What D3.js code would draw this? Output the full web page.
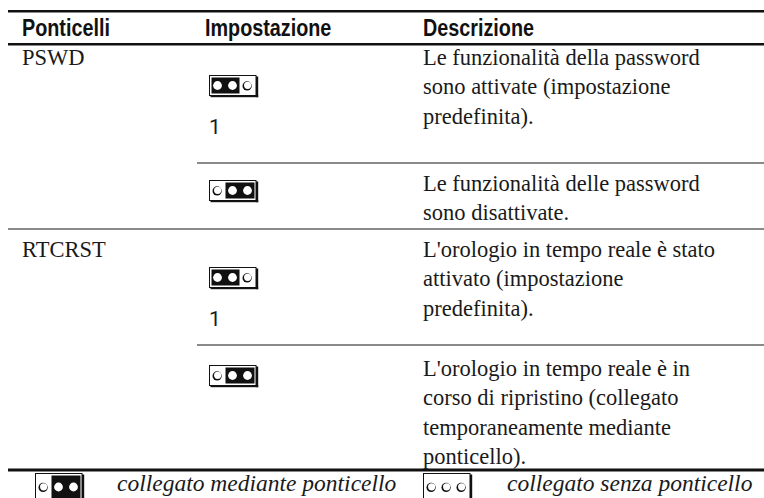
<!DOCTYPE html>
<html><head><meta charset="utf-8">
<script src="https://cdn.jsdelivr.net/npm/d3@7"></script>
<style>
html,body{margin:0;padding:0;background:#fff;}
svg{display:block;}
.hdr{font-family:"Liberation Sans",Arial,sans-serif;font-weight:bold;font-size:23px;fill:#111;}
.body{font-family:"Liberation Serif","Times New Roman",serif;font-size:22.5px;fill:#1a1a1a;}
.lab{font-family:Roboto,"Liberation Sans",sans-serif;font-size:21px;fill:#1a1a1a;}
.leg{font-family:"Liberation Serif","Times New Roman",serif;font-style:italic;font-size:23.5px;fill:#1a1a1a;}
</style></head>
<body><svg id="c" width="764" height="498"></svg>
<script>
// ---- data ----
const columns = ["Ponticelli", "Impostazione", "Descrizione"];
const rowJumper = ["PSWD", "", "RTCRST", ""];
const rowPins = [[1,1,0],[0,1,1],[1,1,0],[0,1,1]];
const rowPinLabel = ["1", "", "1", ""];
const rowDesc = [
  ["Le funzionalità della password", "sono attivate (impostazione", "predefinita)."],
  ["Le funzionalità delle password", "sono disattivate."],
  ["L'orologio in tempo reale è stato", "attivato (impostazione", "predefinita)."],
  ["L'orologio in tempo reale è in", "corso di ripristino (collegato", "temporaneamente mediante", "ponticello)."]
];
const legendPins = [[0,1,1],[0,0,0]];
const legendLabels = ["collegato mediante ponticello", "collegato senza ponticello"];

// ---- layout ----
const svg = d3.select("#c");
const colX = d3.scaleOrdinal().domain(columns).range([22, 205, 423]);
const rowBase = [65, 191, 257, 376];
const lineH = 29.3;
const iconTopOff = [10, -11, 10, -11];
const ruleLeft = 8, ruleRight = 764;

// rules
svg.append("rect").attr("x", ruleLeft).attr("y", 10).attr("width", ruleRight-ruleLeft).attr("height", 2.5).attr("fill", "#111");
svg.append("rect").attr("x", ruleLeft).attr("y", 43).attr("width", ruleRight-ruleLeft).attr("height", 2.5).attr("fill", "#111");
svg.append("rect").attr("x", ruleLeft).attr("y", 468.5).attr("width", ruleRight-ruleLeft).attr("height", 3).attr("fill", "#111");
// separators
[[197,162],[ruleLeft,228],[197,344]].forEach(([x0,y]) => {
  svg.append("rect").attr("x", x0).attr("y", y).attr("width", ruleRight-x0).attr("height", 2).attr("fill", "#8a8a8a");
});

// header (condensed bold)
svg.selectAll("text.hdr").data(columns).join("text").attr("class","hdr")
  .attr("transform", d => `translate(${colX(d)},35.5) scale(0.86,1)`).text(d => d);

// jumper icon
const W = 47;
const pinX = [8.5, 23.5, 38.5];
function jumper(g, pins, h, open) {
  g.append("rect").attr("x", W).attr("y", 1.5).attr("width", 2.2).attr("height", h+0.7).attr("fill","#111");
  if (!open) g.append("rect").attr("x", 1.5).attr("y", h).attr("width", W+0.7).attr("height", 2.2).attr("fill","#111");
  g.append("rect").attr("x", 0.5).attr("y", 0.5).attr("width", W-0.5).attr("height", h).attr("fill","#fff").attr("stroke","#111").attr("stroke-width",1);
  const on = pins.map((p,i)=>p?i:-1).filter(i=>i>=0);
  const cy = open ? 14 : h/2+0.5;
  if (on.length) {
    const x0 = Math.max(2.5, pinX[on[0]] - 7), x1 = Math.min(W-1.5, pinX[on[on.length-1]] + 7);
    g.append("rect").attr("x", x0).attr("y", 2.5).attr("width", x1 - x0).attr("height", h-4).attr("fill","#111");
  }
  pins.forEach((p,i) => {
    if (p) {
      g.append("circle").attr("cx", pinX[i]).attr("cy", cy).attr("r", 4.4).attr("fill","#fff");
    } else {
      g.append("circle").attr("cx", pinX[i]-0.4).attr("cy", cy+0.4).attr("r", 4.6).attr("fill","#111");
      g.append("circle").attr("cx", pinX[i]+0.15).attr("cy", cy-0.15).attr("r", 3.6).attr("fill","#fff");
    }
  });
}

rowDesc.forEach((lines, r) => {
  const g = svg.append("g");
  if (rowJumper[r]) g.append("text").attr("class","body").attr("x", colX(columns[0])).attr("y", rowBase[r]).text(rowJumper[r]);
  g.selectAll("text.d").data(lines).join("text").attr("class","body d")
    .attr("x", colX(columns[2])).attr("y", (d,i) => rowBase[r] + i*lineH).text(d => d);
  const ig = g.append("g").attr("transform", `translate(${colX(columns[1])+4},${rowBase[r]+iconTopOff[r]})`);
  jumper(ig, rowPins[r], 20, false);
  if (rowPinLabel[r]) g.append("text").attr("class","lab").attr("x", colX(columns[1])+4).attr("y", rowBase[r] + 69).text(rowPinLabel[r]);
});

// legend
const legX = [35, 423], legTextX = [117, 507];
legendLabels.forEach((lab, i) => {
  const ig = svg.append("g").attr("transform", `translate(${legX[i]},473)`);
  jumper(ig, legendPins[i], 40, true);
  svg.append("text").attr("class","leg").attr("x", legTextX[i]).attr("y", 491).text(lab);
});
</script></body></html>
